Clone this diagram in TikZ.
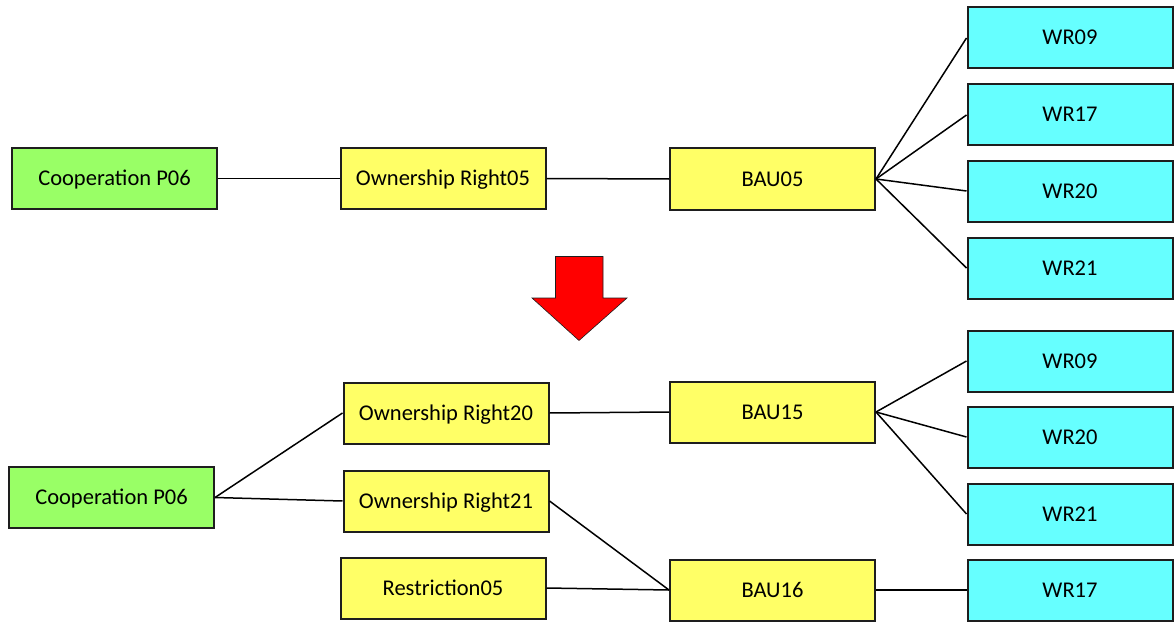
\documentclass[tikz,border=0pt]{standalone}
\usepackage{fontspec}
\setmainfont{Carlito}
\definecolor{boxgreen}{RGB}{153,255,102}
\definecolor{boxyellow}{RGB}{255,255,102}
\definecolor{boxcyan}{RGB}{102,255,255}
\definecolor{edgegray}{RGB}{30,30,30}
\begin{document}
\begin{tikzpicture}[x=1pt,y=-1pt,
  box/.style={draw=edgegray,line width=2pt,minimum width=205pt,minimum height=61pt,inner sep=0pt,text height=14pt,text depth=0pt,font=\fontsize{22.5}{24}\selectfont},
  gbox/.style={box,fill=boxgreen},
  ybox/.style={box,fill=boxyellow},
  cbox/.style={box,fill=boxcyan},
  link/.style={draw=black,line width=1.5pt}]
\useasboundingbox (0,0) rectangle (1175,623);
% top
\node[gbox] (coopA) at (114.5,178.5) {Cooperation P06};
\node[ybox] (or05) at (443,178.5) {Ownership Right05};
\node[ybox] (bau05) at (772.5,179) {BAU05};
\node[cbox] (wr09a) at (1070,38) {WR09};
\node[cbox] (wr17a) at (1070,115) {WR17};
\node[cbox] (wr20a) at (1070,191) {WR20};
\node[cbox] (wr21a) at (1070,268) {WR21};
\draw[link] (coopA.east) -- (or05.west);
\draw[link] (or05.east) -- (bau05.west);
\foreach \w in {wr09a,wr17a,wr20a,wr21a}{\draw[link] (bau05.east) -- (\w.west);}
% arrow
\path[fill=red,draw=edgegray,line width=0.6pt] (555.5,256.5) -- (603,256.5) -- (603,298) -- (627,298) -- (579,340.5) -- (532,298) -- (555.5,298) -- cycle;
% bottom
\node[gbox] (coopB) at (111.5,497.5) {Cooperation P06};
\node[ybox] (or20) at (446,413) {Ownership Right20};
\node[ybox] (or21) at (446,501) {Ownership Right21};
\node[ybox] (res05) at (443,588) {Restriction05};
\node[ybox] (bau15) at (772.5,412) {BAU15};
\node[ybox] (bau16) at (772.5,590) {BAU16};
\node[cbox] (wr09b) at (1070,361) {WR09};
\node[cbox] (wr20b) at (1070,437) {WR20};
\node[cbox] (wr21b) at (1070,514) {WR21};
\node[cbox] (wr17b) at (1070,590) {WR17};
\draw[link] (coopB.east) -- (or20.west);
\draw[link] (coopB.east) -- (or21.west);
\draw[link] (or20.east) -- (bau15.west);
\draw[link] (or21.east) -- (bau16.west);
\draw[link] (res05.east) -- (bau16.west);
\foreach \w in {wr09b,wr20b,wr21b}{\draw[link] (bau15.east) -- (\w.west);}
\draw[link] (bau16.east) -- (wr17b.west);
\end{tikzpicture}
\end{document}
